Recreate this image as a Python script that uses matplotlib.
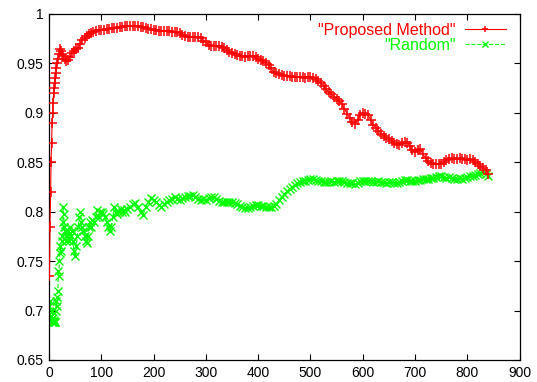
import matplotlib
matplotlib.use("Agg")
import matplotlib.pyplot as plt

plt.rcParams['font.family'] = ['Liberation Sans', 'DejaVu Sans']

# "Proposed Method" series
red_x = [1, 2, 3, 4, 5, 6, 7, 8, 9, 10, 11, 12, 13, 14, 15, 17, 19, 21, 23, 25, 27, 30, 33, 36,
         40, 44, 48, 52, 56, 60, 64, 68, 72, 76, 80, 85, 90, 95, 100,
         105, 110, 115, 120, 125, 130, 135, 140, 145, 150, 155, 160, 165, 170, 175, 180, 185, 190,
         195, 200, 205, 210, 215, 220, 225, 230, 235, 240, 245, 250, 255, 260, 265, 270, 275, 280,
         285, 290, 295, 300, 305, 310, 315, 320, 325, 330, 335, 340, 345, 350, 355, 360, 365, 370,
         375, 380, 385, 390, 395, 400, 405, 410, 415, 420, 425, 430, 435, 440, 445, 450, 455, 460,
         465, 470, 475, 480, 485, 490, 495, 500, 505, 510, 515, 520, 525, 530, 535, 540, 545, 550,
         555, 560, 565, 570, 575, 580, 585, 590, 595, 600, 605, 610, 615, 620, 625, 630, 635, 640,
         645, 650, 655, 660, 665, 670, 675, 680, 685, 690, 695, 700, 705, 710, 715, 720, 725, 730,
         735, 740, 745, 750, 755, 760, 765, 770, 775, 780, 785, 790, 795, 800, 805, 810, 815, 820,
         825, 830, 835, 840]
red_y = [0.735, 0.785, 0.82, 0.85, 0.87, 0.89, 0.90, 0.91, 0.92, 0.925, 0.93, 0.935, 0.94, 0.945,
         0.95, 0.954, 0.96, 0.965, 0.963, 0.960, 0.957, 0.954, 0.952, 0.953,
         0.956, 0.961, 0.963, 0.965, 0.966, 0.970, 0.974, 0.976, 0.978, 0.980, 0.981, 0.982, 0.983,
         0.984, 0.984,
         0.984, 0.985, 0.985, 0.986, 0.986, 0.986, 0.987, 0.987, 0.988, 0.988, 0.988, 0.988, 0.988,
         0.988, 0.987, 0.987, 0.986, 0.985,
         0.985, 0.984, 0.984, 0.983, 0.983, 0.983, 0.983, 0.983, 0.982, 0.982, 0.982, 0.981, 0.979,
         0.978, 0.977, 0.977, 0.977, 0.977,
         0.977, 0.976, 0.973, 0.972, 0.969, 0.968, 0.968, 0.968, 0.968, 0.967, 0.966, 0.964, 0.962,
         0.961, 0.960, 0.959, 0.958, 0.957,
         0.956, 0.957, 0.958, 0.957, 0.956, 0.954, 0.953, 0.952, 0.950, 0.948, 0.945, 0.941, 0.940,
         0.939, 0.938, 0.937, 0.937, 0.937,
         0.936, 0.936, 0.936, 0.936, 0.936, 0.935, 0.936, 0.936, 0.935, 0.934, 0.932, 0.930, 0.927,
         0.924, 0.921, 0.919, 0.916, 0.914,
         0.912, 0.909, 0.904, 0.899, 0.895, 0.891, 0.889, 0.893, 0.898, 0.900, 0.899, 0.898, 0.893,
         0.888, 0.885, 0.882, 0.879, 0.877,
         0.875, 0.874, 0.872, 0.870, 0.868, 0.867, 0.869, 0.871, 0.870, 0.866, 0.862, 0.860, 0.862,
         0.863, 0.858, 0.854, 0.851, 0.849,
         0.848, 0.848, 0.848, 0.848, 0.850, 0.852, 0.853, 0.854, 0.853, 0.853, 0.854, 0.853, 0.853,
         0.852, 0.853, 0.852, 0.850, 0.848,
         0.846, 0.844, 0.842, 0.838]

# "Random" series
green_x = [1, 2, 3, 4, 5, 6, 7, 8, 9, 10, 11, 12, 13, 14, 15, 16, 17, 18, 19, 20, 21, 22, 23, 24,
           25, 26, 27, 28, 29, 30, 32, 34, 36, 38, 40, 42, 44, 46, 48, 50, 52, 54, 56, 58, 60, 62,
           64, 66, 68, 70, 72, 74, 76, 78, 80, 83, 86, 89, 92, 95, 98, 101, 104, 107, 110, 113, 116,
           119, 122, 125, 128, 131, 134, 137, 140, 143, 146, 150, 155, 160, 165, 170, 175, 180, 185,
           190, 195, 200, 205, 210, 215, 220, 225, 230, 235, 240, 245, 250, 255, 260, 265, 270, 275,
           280, 285, 290, 295, 300, 305, 310, 315, 320, 325, 330, 335, 340, 345, 350, 355, 360, 365,
           370, 375, 380, 385, 390, 395, 400, 405, 410, 415, 420, 425, 430, 435, 440, 445, 450, 455,
           460, 465, 470, 475, 480, 485, 490, 495, 500, 505, 510, 515, 520, 525, 530, 535, 540, 545,
           550, 555, 560, 565, 570, 575, 580, 585, 590, 595, 600, 605, 610, 615, 620, 625, 630, 635,
           640, 645, 650, 655, 660, 665, 670, 675, 680, 685, 690, 695, 700, 705, 710, 715, 720, 725,
           730, 735, 740, 745, 750, 755, 760, 765, 770, 775, 780, 785, 790, 795, 800, 805, 810, 815,
           820, 825, 830, 835, 840]
green_y = [0.705, 0.71, 0.695, 0.69, 0.688, 0.70, 0.692, 0.688, 0.688, 0.69, 0.688, 0.688, 0.70,
           0.71, 0.705, 0.714, 0.72, 0.74, 0.735, 0.75, 0.758, 0.765, 0.76, 0.77,
           0.775, 0.79, 0.805, 0.798, 0.785, 0.78, 0.77, 0.775, 0.78, 0.77, 0.785, 0.775, 0.78,
           0.77, 0.76, 0.755, 0.765, 0.775, 0.785, 0.795, 0.80, 0.79,
           0.785, 0.78, 0.775, 0.77, 0.768, 0.775, 0.785, 0.79, 0.785, 0.792, 0.79, 0.795, 0.802,
           0.795, 0.80, 0.80, 0.798, 0.795, 0.79, 0.785, 0.78,
           0.785, 0.795, 0.805, 0.80, 0.798, 0.80, 0.803, 0.80, 0.802, 0.80, 0.803, 0.805, 0.808,
           0.809, 0.805, 0.80, 0.797, 0.805,
           0.81, 0.814, 0.812, 0.81, 0.807, 0.805, 0.808, 0.81, 0.812, 0.813, 0.815, 0.813, 0.812,
           0.814, 0.815, 0.816, 0.816, 0.817,
           0.815, 0.813, 0.812, 0.813, 0.812, 0.814, 0.815, 0.815, 0.813, 0.811, 0.81, 0.81, 0.81,
           0.81, 0.81, 0.809, 0.808, 0.806,
           0.805, 0.804, 0.804, 0.805, 0.806, 0.807, 0.807, 0.806, 0.806, 0.805, 0.805, 0.805,
           0.806, 0.808, 0.812, 0.815, 0.818, 0.821,
           0.823, 0.825, 0.827, 0.829, 0.83, 0.831, 0.831, 0.832, 0.833, 0.833, 0.832, 0.831,
           0.831, 0.83, 0.83, 0.83, 0.831, 0.83,
           0.831, 0.831, 0.831, 0.83, 0.829, 0.829, 0.829, 0.828, 0.829, 0.831, 0.831, 0.831,
           0.831, 0.831, 0.83, 0.83, 0.831, 0.83,
           0.83, 0.829, 0.83, 0.83, 0.829, 0.829, 0.83, 0.831, 0.832, 0.832, 0.831, 0.831, 0.831,
           0.832, 0.832, 0.833, 0.833, 0.833,
           0.834, 0.834, 0.835, 0.836, 0.836, 0.835, 0.834, 0.835, 0.834, 0.833, 0.833, 0.834,
           0.833, 0.834, 0.835, 0.836, 0.836, 0.837,
           0.838, 0.839, 0.84, 0.838, 0.836]

x_ticks = [0, 100, 200, 300, 400, 500, 600, 700, 800, 900]
y_ticks = [0.65, 0.7, 0.75, 0.8, 0.85, 0.9, 0.95, 1.0]
y_tick_labels = ['0.65', '0.7', '0.75', '0.8', '0.85', '0.9', '0.95', '1']

fig = plt.figure(figsize=(5.37, 3.82), dpi=100)
ax = fig.add_axes([0.0912, 0.0576, 0.8766, 0.9058])

ax.plot(green_x, green_y, color='#00ff00', linestyle='--', linewidth=0.8,
        marker='x', markersize=5.5, markeredgewidth=1.0, label='"Random"', zorder=2)
ax.plot(red_x, red_y, color='#ff0000', linestyle='-', linewidth=0.8,
        marker='+', markersize=7.5, markeredgewidth=1.1, label='"Proposed Method"', zorder=3)

ax.set_xlim(0, 900)
ax.set_ylim(0.65, 1.0)
ax.set_xticks(x_ticks)
ax.set_xticklabels([str(t) for t in x_ticks])
ax.set_yticks(y_ticks)
ax.set_yticklabels(y_tick_labels)
ax.tick_params(direction='in', length=4, width=0.8, top=True, right=True,
               labelsize=10, pad=4)
for s in ax.spines.values():
    s.set_linewidth(0.9)

handles, labels = ax.get_legend_handles_labels()
leg = ax.legend(handles[::-1], labels[::-1], loc='upper right', frameon=False,
                markerfirst=False, labelcolor='linecolor', fontsize=11.5,
                handlelength=2.6, handletextpad=0.55, labelspacing=0.0,
                borderaxespad=0.15, bbox_to_anchor=(0.99, 1.0))
for h in leg.legend_handles:
    h.set_markersize(5)
for t in leg.get_texts():
    t.set_ha('right')

fig.savefig('out.png', dpi=100)
